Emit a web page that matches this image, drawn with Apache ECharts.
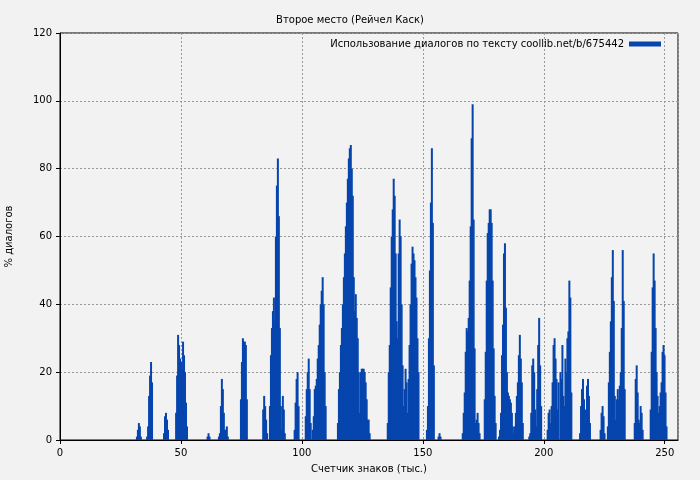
<!DOCTYPE html>
<html>
<head>
<meta charset="utf-8">
<script src="https://cdn.jsdelivr.net/npm/echarts@6/dist/echarts.min.js"></script>
</head>
<body style="margin:0;background:#f2f2f2">
<div id="main" style="width:700px;height:480px;"></div>
<script type="text/javascript">
// шаг между столбцами (тыс. знаков)
var step = 0.41;
// каждый кластер: начало по оси X и высоты столбцов (%)
var clusterStarts = [31.8, 36, 43, 48, 61, 65.7, 74.8, 84, 86.8, 97, 101.6, 104.5, 114.9, 135.5, 151.7, 156.5,
  166.5, 175.6, 181.5, 194, 201.6, 206.9, 215, 223.5, 226.5, 237.6, 244.2];
var clusterValues = [
  [1, 3, 5, 4, 1],
  [1, 4, 13, 19, 23, 17],
  [2, 7, 8, 6, 3],
  [8, 19, 31, 28, 24, 23, 21, 29, 25, 20, 11, 4],
  [1, 2, 1],
  [1, 2, 10, 18, 15, 8, 3, 3, 4, 1],
  [12, 23, 30, 29, 29, 28, 12],
  [9, 13, 10, 6, 2],
  [10, 25, 33, 38, 42, 35, 60, 75, 83, 66, 33, 10, 3, 13, 9, 2],
  [3, 11, 18, 20, 10],
  [7, 15, 20, 24, 15, 5],
  [3, 7, 15, 16, 18, 24, 28, 34, 40, 44, 48, 40, 20, 10],
  [5, 15, 20, 28, 33, 40, 48, 55, 63, 70, 77, 83, 86, 87, 80, 72, 48, 38, 43, 36, 30, 20, 8, 20, 21, 21, 21, 20, 17, 12, 6, 6, 2],
  [5, 20, 28, 45, 60, 68, 77, 72, 55, 35, 30, 55, 65, 60, 40, 22, 10, 15, 21, 17, 8, 18, 28, 40, 52, 57, 55, 53, 48, 42, 30, 20],
  [3, 10, 30, 50, 70, 86, 64, 22],
  [1, 2, 1],
  [2, 8, 14, 26, 33, 32, 36, 47, 63, 89, 99, 65, 27, 5, 6, 8, 5, 2],
  [12, 26, 47, 61, 64, 68, 68, 64, 47, 27, 13, 5],
  [1, 3, 8, 25, 34, 55, 58, 39, 20, 14, 13, 12, 11, 8, 4, 2, 4, 8, 13, 17, 25, 31, 24, 17, 5],
  [1, 2, 8, 22, 24, 20, 9, 4, 15, 28, 36, 22, 10],
  [3, 8, 9, 5, 10, 17, 28, 30, 24, 18, 9, 17],
  [20, 18, 28, 13, 10, 24, 20, 30, 32, 47, 42, 14],
  [2, 10, 15, 18, 12, 4, 9, 16, 18, 13, 5],
  [3, 8, 10, 7, 2],
  [4, 17, 26, 35, 48, 56, 41, 13, 6, 12, 15, 12, 16, 20, 33, 56, 41, 15],
  [5, 18, 22, 14, 6, 5, 10, 8, 3],
  [9, 26, 45, 55, 47, 33, 20, 13, 8, 10, 14, 17, 26, 28, 25, 14, 4]
];

var data = [];
for (var c = 0; c < clusterStarts.length; c++) {
    for (var i = 0; i < clusterValues[c].length; i++) {
        data.push([+(clusterStarts[c] + i * step).toFixed(2), clusterValues[c][i]]);
    }
}

var myChart = echarts.init(document.getElementById('main'));
var gridLine = { show: true, lineStyle: { color: '#999', type: [2, 2] } };
var option = {
    backgroundColor: '#f2f2f2',
    animation: false,
    textStyle: { fontFamily: 'DejaVu Sans' },
    title: {
        text: 'Второе место (Рейчел Каск)',
        left: 'center', top: 10,
        textStyle: { fontSize: 10, fontWeight: 'normal', color: '#000' }
    },
    legend: {
        right: 34, top: 34, itemWidth: 32, itemHeight: 5, itemGap: 6, align: 'right',
        icon: 'rect',
        textStyle: { fontSize: 10, color: '#000' },
        data: ['Использование диалогов по тексту coollib.net/b/675442']
    },
    grid: { left: 60, right: 22, top: 33, bottom: 40, show: true, borderColor: '#000', borderWidth: 1,
        outerBoundsMode: 'none' },
    xAxis: {
        type: 'value', min: 0, max: 255.5, interval: 50,
        name: 'Счетчик знаков (тыс.)', nameLocation: 'middle', nameGap: 24,
        nameTextStyle: { fontSize: 10, color: '#000' },
        axisLine: { lineStyle: { color: '#000' } },
        axisTick: { inside: false, length: 4, lineStyle: { color: '#000' } },
        axisLabel: { fontSize: 10, color: '#000', showMaxLabel: false },
        splitLine: gridLine
    },
    yAxis: {
        type: 'value', min: 0, max: 120, interval: 20,
        name: '% диалогов', nameLocation: 'middle', nameGap: 46,
        nameTextStyle: { fontSize: 10, color: '#000' },
        axisLine: { show: true, lineStyle: { color: '#000' } },
        axisTick: { show: true, length: 4, lineStyle: { color: '#000' } },
        axisLabel: { fontSize: 10, color: '#000' },
        splitLine: gridLine
    },
    series: [{
        name: 'Использование диалогов по тексту coollib.net/b/675442',
        type: 'bar',
        barWidth: 2,
        itemStyle: { color: '#0645ad' },
        data: data
    }]
};
myChart.setOption(option);
</script>
</body>
</html>
